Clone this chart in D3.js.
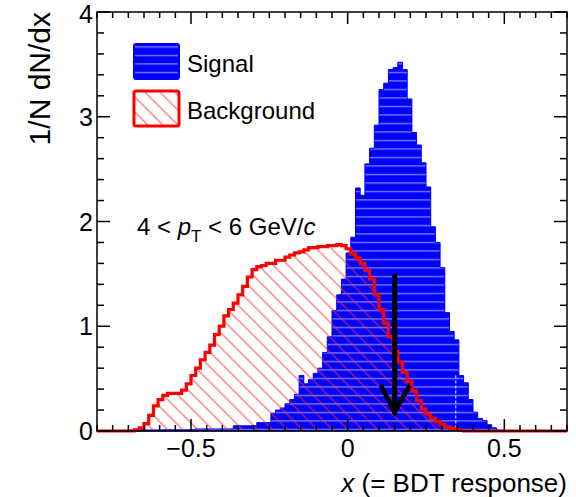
<!DOCTYPE html>
<html><head><meta charset="utf-8">
<script src="https://cdn.jsdelivr.net/npm/d3@7"></script>
<style>
html,body{margin:0;padding:0;background:#fff;}
svg{display:block;font-family:"Liberation Sans",Arial,Helvetica,sans-serif;}
</style></head>
<body><svg id="c" width="576" height="497"></svg>
<script>
// ---- data ----
const binStart = -0.8;
const binWidth = 0.015;
const signal = [
 0.003,0.003,0.003,0.003,0.003,0.003,0.003,0.01,0.01,0.01,
 0.01,0.01,0.01,0.01,0.012,0.012,0.012,0.012,0.012,0.012,
 0.012,0.02,0.02,0.02,0.02,0.02,0.02,0.02,0.02,0.05,
 0.05,0.05,0.05,0.05,0.08,0.08,0.08,0.17,0.2,0.22,
 0.26,0.3,0.35,0.53,0.45,0.49,0.55,0.6,0.75,0.9,
 1.15,1.3,1.45,1.7,1.85,2.32,2.25,2.55,2.7,2.92,
 3.26,3.32,3.45,3.47,3.52,3.45,3.17,2.85,2.73,2.56,
 2.33,1.95,1.8,1.56,1.13,0.95,0.87,0.53,0.46,0.3,
 0.18,0.12,0.1,0.06,0.03,0.01,0,0,0,0,
 0,0,0,0,0,0,0,0,0,0];
const background = [
 0,0,0,0,0,0,0,0,0.01,0.03,
 0.07,0.15,0.24,0.3,0.34,0.36,0.36,0.36,0.39,0.45,
 0.53,0.6,0.68,0.75,0.82,0.92,1.0,1.1,1.16,1.22,
 1.3,1.38,1.47,1.54,1.57,1.58,1.6,1.6,1.63,1.63,
 1.66,1.68,1.7,1.71,1.73,1.75,1.75,1.76,1.76,1.77,
 1.77,1.78,1.77,1.74,1.69,1.65,1.6,1.53,1.45,1.3,
 1.16,1.03,0.9,0.76,0.66,0.56,0.47,0.38,0.29,0.21,
 0.16,0.12,0.09,0.06,0.04,0.025,0.015,0.005,0,0,
 0,0,0,0,0,0,0,0,0,0,
 0,0,0,0,0,0,0,0,0,0];
const xMajorTicks = [-0.5, 0, 0.5];
const xTickLabels = ["\u22120.5", "0", "0.5"];
const yMajorTicks = [0, 1, 2, 3, 4];
const yTickLabels = ["0", "1", "2", "3", "4"];
const cutValue = 0.15;
const arrowFrom = 1.5, arrowTo = 0.18;
const legendLabels = ["Signal", "Background"];

// ---- layout ----
const svg = d3.select("#c");
const L = 97, R = 567, T = 12, B = 431;
const x = d3.scaleLinear().domain([-0.8, 0.7]).range([L, R]);
const y = d3.scaleLinear().domain([0, 4]).range([B, T]);

const defs = svg.append("defs");
const pS = defs.append("pattern").attr("id","sigPat").attr("patternUnits","userSpaceOnUse")
  .attr("width", 8).attr("height", 8.5);
pS.append("rect").attr("width",8).attr("height",8.5).attr("fill","#0000ff");
pS.append("line").attr("x1",0).attr("x2",8).attr("y1",4.5).attr("y2",4.5)
  .attr("stroke","#9a9aff").attr("stroke-width",1.1);
const pB = defs.append("pattern").attr("id","bkgPat").attr("patternUnits","userSpaceOnUse")
  .attr("width", 10.6).attr("height", 10.6).attr("patternTransform","rotate(45)");
pB.append("line").attr("x1",0).attr("x2",10.6).attr("y1",5).attr("y2",5)
  .attr("stroke","#ff3030").attr("stroke-width",0.9);
defs.append("clipPath").attr("id","clip").append("rect")
  .attr("x",L).attr("y",T).attr("width",R-L).attr("height",B-T+3);

function pts(arr){
  const p = arr.map((v,i)=>[binStart + i*binWidth, v]);
  p.push([binStart + arr.length*binWidth, arr[arr.length-1]]);
  return p;
}
const area = d3.area().x(d=>x(d[0])).y0(y(0)).y1(d=>y(d[1])).curve(d3.curveStepAfter);
const line = d3.line().x(d=>x(d[0])).y(d=>y(d[1])).curve(d3.curveStepAfter);

const g = svg.append("g").attr("clip-path","url(#clip)");
g.append("path").attr("d", area(pts(signal))).attr("fill","url(#sigPat)")
  .attr("stroke","#0000ff").attr("stroke-width",1);
// artifact white dashed line seen in signal
g.append("line").attr("x1",x(0.345)).attr("x2",x(0.345)).attr("y1",y(0.53)).attr("y2",y(0))
  .attr("stroke","#ffffff").attr("stroke-width",1).attr("stroke-dasharray","3,2");
g.append("path").attr("d", area(pts(background))).attr("fill","url(#bkgPat)");
g.append("path").attr("d", line(pts(background))).attr("fill","none")
  .attr("stroke","#ff0000").attr("stroke-width",3.2);

// arrow
const ax = x(cutValue);
svg.append("line").attr("x1",ax).attr("x2",ax).attr("y1",y(arrowFrom)).attr("y2",y(arrowTo)+2)
  .attr("stroke","#000").attr("stroke-width",5);
svg.append("path").attr("d",`M${ax-14},${y(arrowTo)-27}L${ax},${y(arrowTo)}L${ax+15},${y(arrowTo)-27}`)
  .attr("fill","none").attr("stroke","#000").attr("stroke-width",4.5).attr("stroke-linejoin","miter");

// frame
svg.append("rect").attr("x",L).attr("y",T).attr("width",R-L).attr("height",B-T)
  .attr("fill","none").attr("stroke","#000").attr("stroke-width",1.5);
// ticks
const xMinor = d3.range(-0.8, 0.7001, 0.05);
const tk = svg.append("g").attr("stroke","#000").attr("stroke-width",1.5);
xMinor.forEach(v=>{
  const isMaj = xMajorTicks.some(m=>Math.abs(m-v)<1e-6);
  const len = isMaj ? 12 : 6;
  tk.append("line").attr("x1",x(v)).attr("x2",x(v)).attr("y1",B).attr("y2",B-len);
  tk.append("line").attr("x1",x(v)).attr("x2",x(v)).attr("y1",T).attr("y2",T+len);
});
const yMinor = d3.range(0, 4.0001, 0.2);
yMinor.forEach(v=>{
  const isMaj = yMajorTicks.some(m=>Math.abs(m-v)<1e-6);
  const len = isMaj ? 13 : 7;
  tk.append("line").attr("x1",L).attr("x2",L+len).attr("y1",y(v)).attr("y2",y(v));
  tk.append("line").attr("x1",R).attr("x2",R-len).attr("y1",y(v)).attr("y2",y(v));
});
// tick labels
xMajorTicks.forEach((v,i)=>{
  svg.append("text").attr("x",x(v)).attr("y",457).attr("text-anchor","middle")
    .attr("font-size",25).text(xTickLabels[i]);
});
yMajorTicks.forEach((v,i)=>{
  svg.append("text").attr("x",93).attr("y",Math.max(y(v)+9, 23)).attr("text-anchor","end")
    .attr("font-size",25).text(yTickLabels[i]);
});
// axis titles
const xt = svg.append("text").attr("x",R).attr("y",492).attr("text-anchor","end").attr("font-size",26);
xt.append("tspan").attr("font-style","italic").text("x");
xt.append("tspan").text(" (= BDT response)");
svg.append("text").attr("transform","translate(50,12) rotate(-90)").attr("text-anchor","end")
  .attr("font-size",30).text("1/N dN/dx");

// pT label
const pt = svg.append("text").attr("x",137).attr("y",235).attr("font-size",24);
pt.append("tspan").text("4 < ");
pt.append("tspan").attr("font-style","italic").text("p");
pt.append("tspan").attr("font-size",17).attr("dy",7).text("T");
pt.append("tspan").attr("dy",-7).text(" < 6 GeV/");
pt.append("tspan").attr("font-style","italic").text("c");

// legend
svg.append("rect").attr("x",134).attr("y",44).attr("width",45).attr("height",35).attr("rx",2)
  .attr("fill","url(#sigPat)").attr("stroke","#0000ff").attr("stroke-width",2);
svg.append("rect").attr("x",134).attr("y",91).attr("width",45).attr("height",35).attr("rx",2)
  .attr("fill","#fff").attr("stroke","none");
svg.append("rect").attr("x",134).attr("y",91).attr("width",45).attr("height",35).attr("rx",2)
  .attr("fill","url(#bkgPat)").attr("stroke","#ff0000").attr("stroke-width",3);
svg.append("text").attr("x",187).attr("y",72).attr("font-size",24).text(legendLabels[0]);
svg.append("text").attr("x",187).attr("y",119).attr("font-size",24).text(legendLabels[1]);
</script></body></html>
